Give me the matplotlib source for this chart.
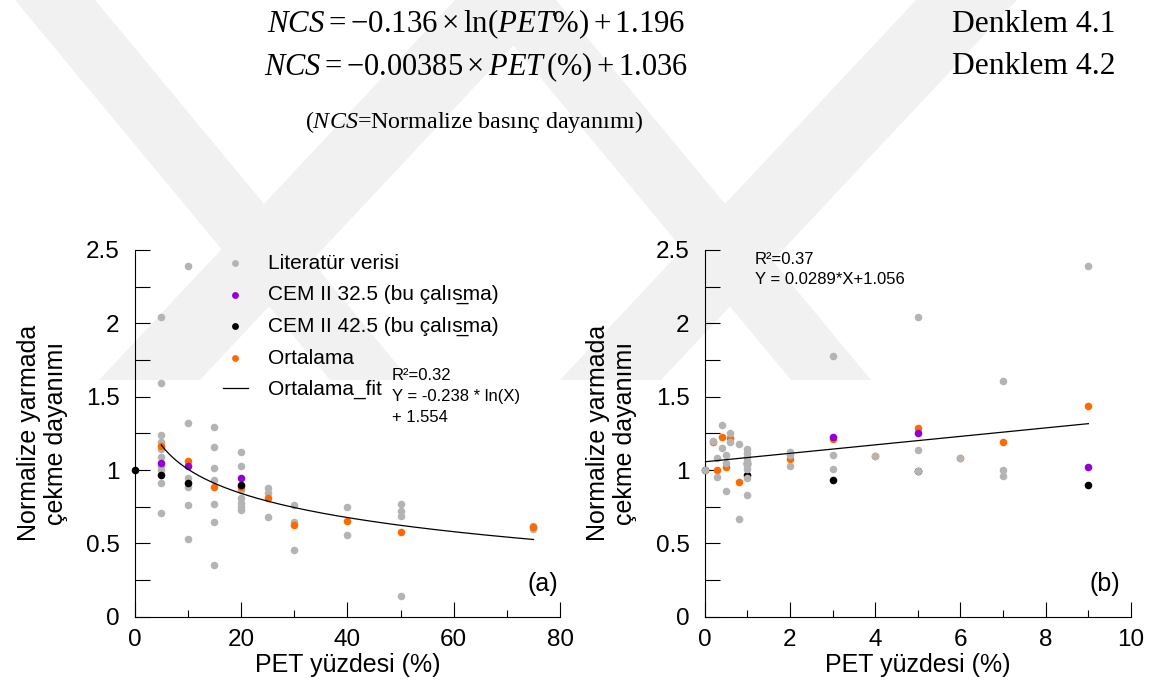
import matplotlib
matplotlib.use("Agg")
import matplotlib.pyplot as plt
import numpy as np
from matplotlib.patches import Polygon
from matplotlib.ticker import MultipleLocator, FuncFormatter

plt.rcParams['font.family'] = ['Liberation Sans', 'DejaVu Sans']
plt.rcParams['mathtext.fontset'] = 'custom'
plt.rcParams['mathtext.rm'] = 'Liberation Serif'
plt.rcParams['mathtext.it'] = 'Liberation Serif:italic'

# --- (a) PET 0-80 % ---
lit_x_a = [5, 5, 5, 5, 5, 5, 5, 5, 5, 5,
           10, 10, 10, 10, 10, 10,
           15, 15, 15, 15, 15, 15, 15,
           20, 20, 20, 20, 20, 20, 20,
           25, 25, 25,
           30, 30, 30,
           40, 40,
           50, 50, 50, 50,
           75, 75]
lit_y_a = [2.045, 1.59, 1.24, 1.19, 1.14, 1.09, 1.03, 1.0, 0.91, 0.705,
           2.39, 1.318, 0.943, 0.886, 0.761, 0.527,
           1.295, 1.159, 1.014, 0.932, 0.77, 0.643, 0.35,
           1.12, 1.027, 0.864, 0.807, 0.773, 0.75, 0.727,
           0.88, 0.845, 0.68,
           0.761, 0.648, 0.452,
           0.748, 0.557,
           0.766, 0.723, 0.686, 0.141,
           0.62, 0.60]
cem325_x_a = [5, 10, 20]
cem325_y_a = [1.05, 1.027, 0.948]
cem425_x_a = [0, 5, 10, 20]
cem425_y_a = [1.0, 0.966, 0.909, 0.898]
ort_x_a = [5, 10, 15, 20, 25, 30, 40, 50, 75]
ort_y_a = [1.164, 1.061, 0.882, 0.882, 0.809, 0.625, 0.652, 0.577, 0.611]
fit_a = (-0.238, 1.554)   # Y = a*ln(X) + b
fit_a_range = (5, 75)

# --- (b) PET 0-10 % ---
lit_x_b = [0, 0.2, 0.3, 0.3, 0.4, 0.4, 0.5, 0.5, 0.5, 0.6, 0.6, 0.8, 0.8,
           1, 1, 1, 1, 1, 1, 1, 1,
           2, 2, 2, 3, 3, 3, 4, 5, 5, 5, 6, 7, 7, 7, 9]
lit_y_b = [1.0, 1.20, 1.08, 0.952, 1.309, 1.147, 1.10, 1.05, 0.857, 1.249, 1.19, 1.177, 0.669,
           1.143, 1.114, 1.086, 1.061, 1.034, 1.009, 0.948, 0.827,
           1.12, 1.10, 1.027, 1.78, 1.102, 1.009, 1.098, 2.04, 1.134, 0.995, 1.083, 1.605, 1.0, 0.959, 2.39]
cem325_x_b = [1, 3, 5, 9]
cem325_y_b = [1.045, 1.227, 1.255, 1.023]
cem425_x_b = [0, 1, 3, 5, 9]
cem425_y_b = [1.0, 0.966, 0.932, 0.995, 0.898]
ort_x_b = [0.2, 0.3, 0.4, 0.5, 0.6, 0.8, 1, 2, 3, 4, 5, 6, 7, 9]
ort_y_b = [1.19, 1.0, 1.228, 1.02, 1.22, 0.918, 1.04, 1.077, 1.209, 1.098, 1.286, 1.083, 1.189, 1.439]
fit_b = (0.0289, 1.056)   # Y = a*X + b
fit_b_range = (0, 9)

GRAY = '#b4b4b4'
PURPLE = '#9400d3'
ORANGE = '#ff6a00'
W, H = 1149, 692

fig = plt.figure(figsize=(W / 100, H / 100), dpi=100)

# faint background logo, drawn in pixel units on a bottom layer
bg = fig.add_axes([0, 0, 1, 1], zorder=-1)
bg.set_xlim(0, W)
bg.set_ylim(H, 0)
bg.axis('off')
bands = [
    [(15, 0), (95, 0), (410, 380), (330, 380)],
    [(99, 380), (200, 380), (556, 0), (455, 0)],
    [(476, 0), (556, 0), (871, 380), (791, 380)],
    [(560, 380), (661, 380), (1017, 0), (916, 0)],
]
for b in bands:
    bg.add_patch(Polygon(b, closed=True, facecolor='#f1f1f1', edgecolor='none'))


def fx(x):
    return x / W


def fy(y):
    return 1 - y / H


# equations above the plots
fig.text(fx(267), fy(24), r'$NCS = -0.136 \times \mathrm{ln}(PET\%) + 1.196$',
         fontsize=22.2, va='center', ha='left')
fig.text(fx(264), fy(67), r'$NCS = -0.00385 \times PET\,(\%) + 1.036$',
         fontsize=22, va='center', ha='left')
fig.text(fx(952), fy(24), 'Denklem 4.1', fontsize=22.8, va='center', ha='left',
         family='Liberation Serif')
fig.text(fx(952), fy(67), 'Denklem 4.2', fontsize=22.8, va='center', ha='left',
         family='Liberation Serif')
fig.text(fx(305), fy(122), r'($NCS$=Normalize basınç dayanımı)',
         fontsize=17.3, va='center', ha='left', family='Liberation Serif')

ax1 = fig.add_axes([fx(134.7), fy(616.7), (560 - 134.7) / W, (616.7 - 250) / H])
ax2 = fig.add_axes([fx(704.7), fy(616.7), (1131 - 704.7) / W, (616.7 - 250) / H])

ms = 30
cem_lbl = 'CEM II {} (bu çalıs\u0332ma)'
ax1.scatter(lit_x_a, lit_y_a, s=ms, color=GRAY, lw=0, label='Literatür verisi', zorder=3)
ax1.scatter(cem325_x_a, cem325_y_a, s=ms, color=PURPLE, lw=0, label=cem_lbl.format('32.5'), zorder=4)
ax1.scatter(cem425_x_a, cem425_y_a, s=ms, color='black', lw=0, label=cem_lbl.format('42.5'),
            zorder=5, clip_on=False)
ax1.scatter(ort_x_a, ort_y_a, s=ms, color=ORANGE, lw=0, label='Ortalama', zorder=3.5)
xf = np.linspace(*fit_a_range, 200)
ax1.plot(xf, fit_a[0] * np.log(xf) + fit_a[1], color='black', lw=0.9, label='Ortalama_fit', zorder=6)

ax2.scatter(ort_x_b, ort_y_b, s=ms, color=ORANGE, lw=0, zorder=3)
ax2.scatter(cem325_x_b, cem325_y_b, s=ms, color=PURPLE, lw=0, zorder=4)
ax2.scatter(cem425_x_b, cem425_y_b, s=ms, color='black', lw=0, zorder=4.5, clip_on=False)
ax2.scatter(lit_x_b, lit_y_b, s=ms, color=GRAY, lw=0, zorder=5, clip_on=False)
xb = np.linspace(*fit_b_range, 50)
ax2.plot(xb, fit_b[0] * xb + fit_b[1], color='black', lw=0.9, zorder=6)

for ax, xmax, xmaj, xmin in [(ax1, 80, 20, 10), (ax2, 10, 2, 1)]:
    ax.set_facecolor('none')
    ax.set_xlim(0, xmax)
    ax.set_ylim(0, 2.5)
    ax.spines['top'].set_visible(False)
    ax.spines['right'].set_visible(False)
    for s in ('left', 'bottom'):
        ax.spines[s].set_linewidth(0.8)
    ax.xaxis.set_major_locator(MultipleLocator(xmaj))
    ax.xaxis.set_minor_locator(MultipleLocator(xmin))
    ax.yaxis.set_major_locator(MultipleLocator(0.5))
    ax.yaxis.set_minor_locator(MultipleLocator(0.25))
    ax.xaxis.set_major_formatter(FuncFormatter(lambda v, p: f'{v:g}'))
    ax.yaxis.set_major_formatter(FuncFormatter(lambda v, p: f'{v:g}'))
    ax.tick_params(axis='both', which='both', direction='in', width=0.8, labelsize=17.5)
    ax.tick_params(axis='x', which='major', length=11, pad=9)
    ax.tick_params(axis='x', which='minor', length=5)
    ax.tick_params(axis='y', which='both', length=11, pad=11)
    ax.set_xlabel('PET yüzdesi (%)', fontsize=18, labelpad=1)
    ax.set_ylabel('Normalize yarmada\nçekme dayanımı', fontsize=18, linespacing=1.15)
    ax.yaxis.set_label_coords(-0.158, 0.5)

leg = ax1.legend(loc='upper left', bbox_to_anchor=(0.2076, 0.99), frameon=False, fontsize=15,
                 handlelength=1.2, handletextpad=0.95, labelspacing=0.6, borderaxespad=0,
                 borderpad=0, markerscale=0.9)
ax1.text(0.605, 0.678, 'R²=0.32\nY = -0.238 * ln(X)\n+ 1.554', transform=ax1.transAxes,
         fontsize=12, va='top', ha='left', linespacing=1.5)
ax2.text(0.118, 0.995, 'R²=0.37\nY = 0.0289*X+1.056', transform=ax2.transAxes,
         fontsize=12, va='top', ha='left', linespacing=1.4)
ax1.text(0.995, 0.09, '(a)', transform=ax1.transAxes, fontsize=18, ha='right', va='center')
ax2.text(0.975, 0.09, '(b)', transform=ax2.transAxes, fontsize=18, ha='right', va='center')

fig.savefig('out.png', dpi=100)
